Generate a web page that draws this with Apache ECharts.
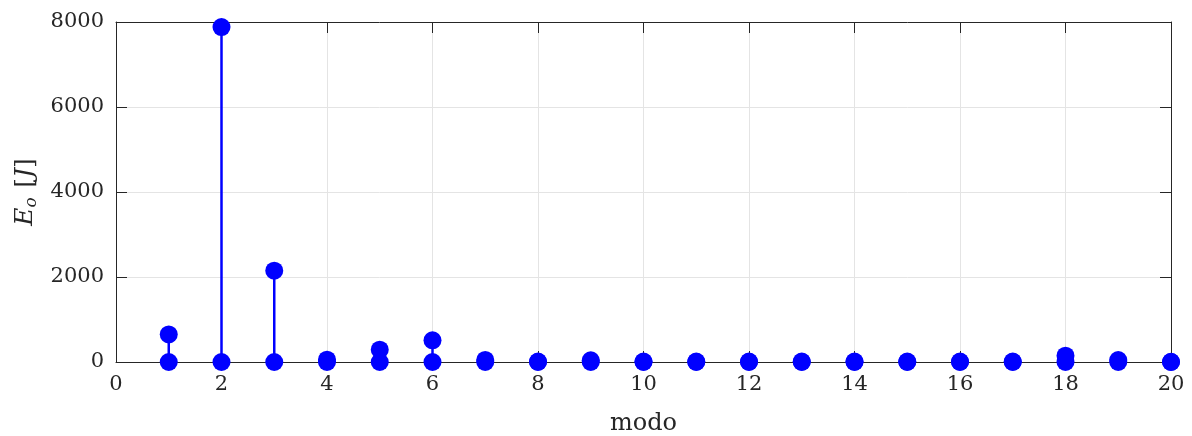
<!DOCTYPE html>
<html>
<head>
<meta charset="utf-8">
<script src="https://cdn.jsdelivr.net/npm/echarts@6/dist/echarts.min.js"></script>
<style>
  html, body { margin: 0; padding: 0; background: #fff; }
  #chart { width: 1192px; height: 436px; }
</style>
</head>
<body>
<div id="chart"></div>
<script>
// modal energy per mode
var modes = [1, 2, 3, 4, 5, 6, 7, 8, 9, 10, 11, 12, 13, 14, 15, 16, 17, 18, 19, 20];
var energy = [650, 7880, 2150, 55, 290, 510, 50, 10, 40, 10, 10, 10, 10, 10, 10, 10, 10, 150, 45, 5];
var xTicks = [0, 2, 4, 6, 8, 10, 12, 14, 16, 18, 20];
var yTicks = [0, 2000, 4000, 6000, 8000];

var fontFam = '"DejaVu Serif", "Liberation Serif", serif';
var ink = '#262626';
var blue = '#0000ff';

var chart = echarts.init(document.getElementById('chart'));

var topPts = modes.map(function (m, i) { return [m, energy[i]]; });
var zeroPts = modes.map(function (m) { return [m, 0]; });

function plain(v) { return String(v); }

chart.setOption({
    animation: false,
    grid: {
        left: 116, right: 21, top: 22, bottom: 74,
        containLabel: false, outerBoundsMode: 'none',
        show: false
    },
    xAxis: [{
        type: 'value',
        min: xTicks[0], max: xTicks[xTicks.length - 1], interval: 2,
        name: 'modo', nameLocation: 'middle', nameGap: 50,
        nameTextStyle: { fontFamily: fontFam, fontSize: 24, color: ink },
        axisLine: { show: true, onZero: false, lineStyle: { color: ink, width: 1 } },
        axisTick: { show: true, inside: true, length: 11, lineStyle: { color: ink } },
        axisLabel: { fontFamily: fontFam, fontSize: 21, color: ink, margin: 12, formatter: plain },
        splitLine: { show: true, lineStyle: { color: '#e4e4e4', width: 1 } }
    }, {
        type: 'value', position: 'top',
        min: xTicks[0], max: xTicks[xTicks.length - 1], interval: 2,
        axisLine: { show: true, onZero: false, lineStyle: { color: ink } },
        axisTick: { show: true, inside: true, length: 11, lineStyle: { color: ink } },
        axisLabel: { show: false },
        splitLine: { show: false }
    }],
    yAxis: [{
        type: 'value',
        min: yTicks[0], max: yTicks[yTicks.length - 1], interval: 2000,
        name: '{it|E}{sub|o} {rm|[}{it|J}{rm|]}', nameLocation: 'middle', nameGap: 73,
        nameTextStyle: {
            fontFamily: fontFam, fontSize: 24, color: ink,
            rich: {
                it: { fontFamily: fontFam, fontSize: 25, fontStyle: 'italic', color: ink },
                sub: { fontFamily: fontFam, fontSize: 17, fontStyle: 'italic', color: ink, verticalAlign: 'bottom', padding: [12, 2, 0, 0] },
                rm: { fontFamily: fontFam, fontSize: 25, color: ink }
            }
        },
        axisLine: { show: true, onZero: false, lineStyle: { color: ink, width: 1 } },
        axisTick: { show: true, inside: true, length: 11, lineStyle: { color: ink } },
        axisLabel: { fontFamily: fontFam, fontSize: 21, color: ink, margin: 12, formatter: plain },
        splitLine: { show: true, lineStyle: { color: '#e4e4e4', width: 1 } }
    }, {
        type: 'value', position: 'right',
        min: yTicks[0], max: yTicks[yTicks.length - 1], interval: 2000,
        axisLine: { show: true, onZero: false, lineStyle: { color: ink } },
        axisTick: { show: true, inside: true, length: 11, lineStyle: { color: ink } },
        axisLabel: { show: false },
        splitLine: { show: false }
    }],
    series: [{
        // stems from 0 up to each value
        type: 'custom',
        clip: false,
        data: topPts,
        renderItem: function (params, api) {
            var p0 = api.coord([api.value(0), 0]);
            var p1 = api.coord([api.value(0), api.value(1)]);
            return {
                type: 'line',
                shape: { x1: p0[0], y1: p0[1], x2: p1[0], y2: p1[1] },
                style: { stroke: blue, lineWidth: 2.5 }
            };
        },
        z: 3
    }, {
        type: 'scatter',
        data: topPts,
        symbol: 'circle', symbolSize: 18,
        itemStyle: { color: blue, opacity: 1 },
        clip: false,
        z: 4
    }, {
        type: 'scatter',
        data: zeroPts,
        symbol: 'circle', symbolSize: 18,
        itemStyle: { color: blue, opacity: 1 },
        clip: false,
        z: 5
    }]
});
</script>
</body>
</html>
